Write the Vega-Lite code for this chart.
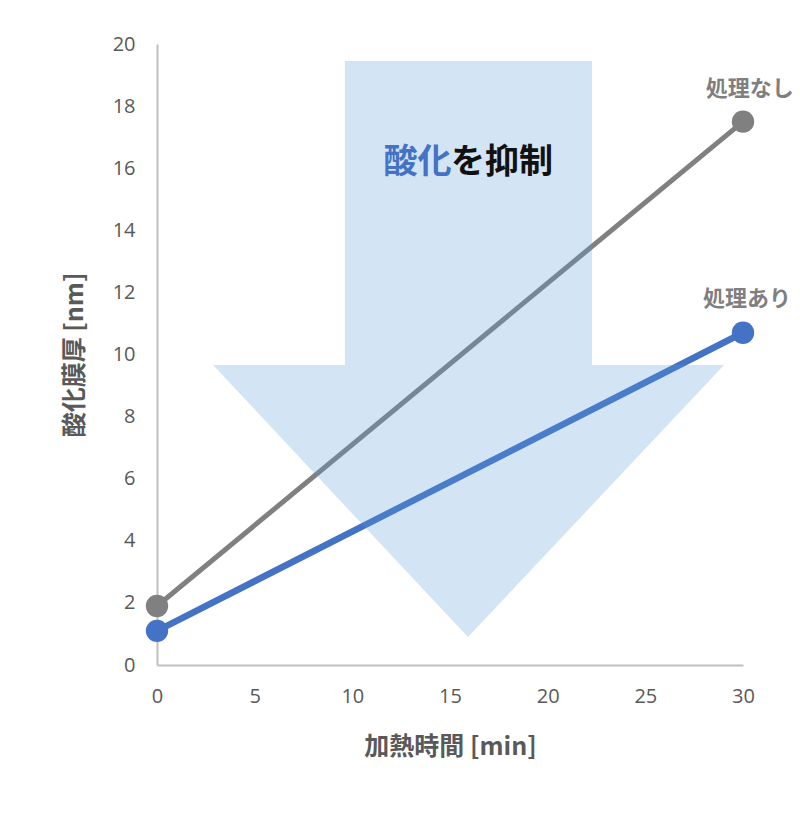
{
  "$schema": "https://vega.github.io/schema/vega-lite/v6.json",
  "width": 586,
  "height": 621,
  "autosize": "none",
  "padding": {"left": 157, "top": 44, "right": 57, "bottom": 155},
  "background": "white",
  "config": {"view": {"stroke": null}, "font": "Noto Sans CJK JP"},
  "datasets": {
    "series": [
      {"time": 0, "thickness": 1.9, "group": "処理なし"},
      {"time": 30, "thickness": 17.5, "group": "処理なし"},
      {"time": 0, "thickness": 1.1, "group": "処理あり"},
      {"time": 30, "thickness": 10.7, "group": "処理あり"}
    ],
    "arrow": [
      {"x": 9.62, "y": 19.45, "o": 1},
      {"x": 22.27, "y": 19.45, "o": 2},
      {"x": 22.27, "y": 9.66, "o": 3},
      {"x": 29.03, "y": 9.66, "o": 4},
      {"x": 15.92, "y": 0.9, "o": 5},
      {"x": 2.87, "y": 9.66, "o": 6},
      {"x": 9.62, "y": 9.66, "o": 7},
      {"x": 9.62, "y": 19.45, "o": 8}
    ],
    "labels": [
      {"x": 30.35, "y": 18.55, "text": "処理なし"},
      {"x": 30.2, "y": 11.8, "text": "処理あり"}
    ],
    "title1": [
      {"x": 11.6, "y": 16.17, "text": "酸化"}
    ],
    "title2": [
      {"x": 15.05, "y": 16.17, "text": "を抑制"}
    ]
  },
  "layer": [
    {
      "data": {"name": "series"},
      "mark": {"type": "line", "clip": false},
      "encoding": {
        "x": {"field": "time", "type": "quantitative", "scale": {"domain": [0, 30]},
          "axis": {"values": [0, 5, 10, 15, 20, 25, 30], "title": "加熱時間 [min]", "grid": false, "ticks": false, "labelFlush": false,
            "domainColor": "#bfbfbf", "domainWidth": 2, "labelFontSize": 20, "labelColor": "#595959", "labelPadding": 21, "labelFont": "Open Sans",
            "titleFontSize": 25, "titleFontWeight": "bold", "titleColor": "#595959", "titlePadding": 28}},
        "y": {"field": "thickness", "type": "quantitative", "scale": {"domain": [0, 20]},
          "axis": {"values": [0, 2, 4, 6, 8, 10, 12, 14, 16, 18, 20], "title": "酸化膜厚 [nm]", "grid": false, "ticks": false, "labelFlush": false,
            "domainColor": "#bfbfbf", "domainWidth": 2, "labelFontSize": 20, "labelColor": "#595959", "labelPadding": 22, "labelFont": "Open Sans",
            "titleFontSize": 25, "titleFontWeight": "bold", "titleColor": "#595959", "titlePadding": 25}},
        "color": {"field": "group", "type": "nominal", "scale": {"domain": ["処理なし", "処理あり"], "range": ["#808080", "#4472c4"]}, "legend": null},
        "strokeWidth": {"field": "group", "type": "nominal", "scale": {"domain": ["処理なし", "処理あり"], "range": [5, 6.5]}, "legend": null}
      }
    },
    {
      "data": {"name": "series"},
      "mark": {"type": "point", "filled": true, "size": 500, "opacity": 1, "clip": false},
      "encoding": {
        "x": {"field": "time", "type": "quantitative"},
        "y": {"field": "thickness", "type": "quantitative"},
        "color": {"field": "group", "type": "nominal", "legend": null}
      }
    },
    {
      "data": {"name": "arrow"},
      "mark": {"type": "line", "fill": "#5B9BD5", "fillOpacity": 0.27, "strokeWidth": 0, "strokeOpacity": 0, "clip": false},
      "encoding": {
        "x": {"field": "x", "type": "quantitative"},
        "y": {"field": "y", "type": "quantitative"},
        "order": {"field": "o", "type": "quantitative"}
      }
    },
    {
      "data": {"name": "labels"},
      "mark": {"type": "text", "fontSize": 22, "fontWeight": "bold", "align": "center", "baseline": "middle", "clip": false, "color": "#7f7f7f"},
      "encoding": {
        "x": {"field": "x", "type": "quantitative"},
        "y": {"field": "y", "type": "quantitative"},
        "text": {"field": "text"}
      }
    },
    {
      "data": {"name": "title1"},
      "mark": {"type": "text", "fontSize": 34, "fontWeight": "bold", "align": "left", "baseline": "middle", "color": "#4472c4"},
      "encoding": {
        "x": {"field": "x", "type": "quantitative"},
        "y": {"field": "y", "type": "quantitative"},
        "text": {"field": "text"}
      }
    },
    {
      "data": {"name": "title2"},
      "mark": {"type": "text", "fontSize": 34, "fontWeight": "bold", "align": "left", "baseline": "middle", "color": "#111111"},
      "encoding": {
        "x": {"field": "x", "type": "quantitative"},
        "y": {"field": "y", "type": "quantitative"},
        "text": {"field": "text"}
      }
    }
  ]
}
